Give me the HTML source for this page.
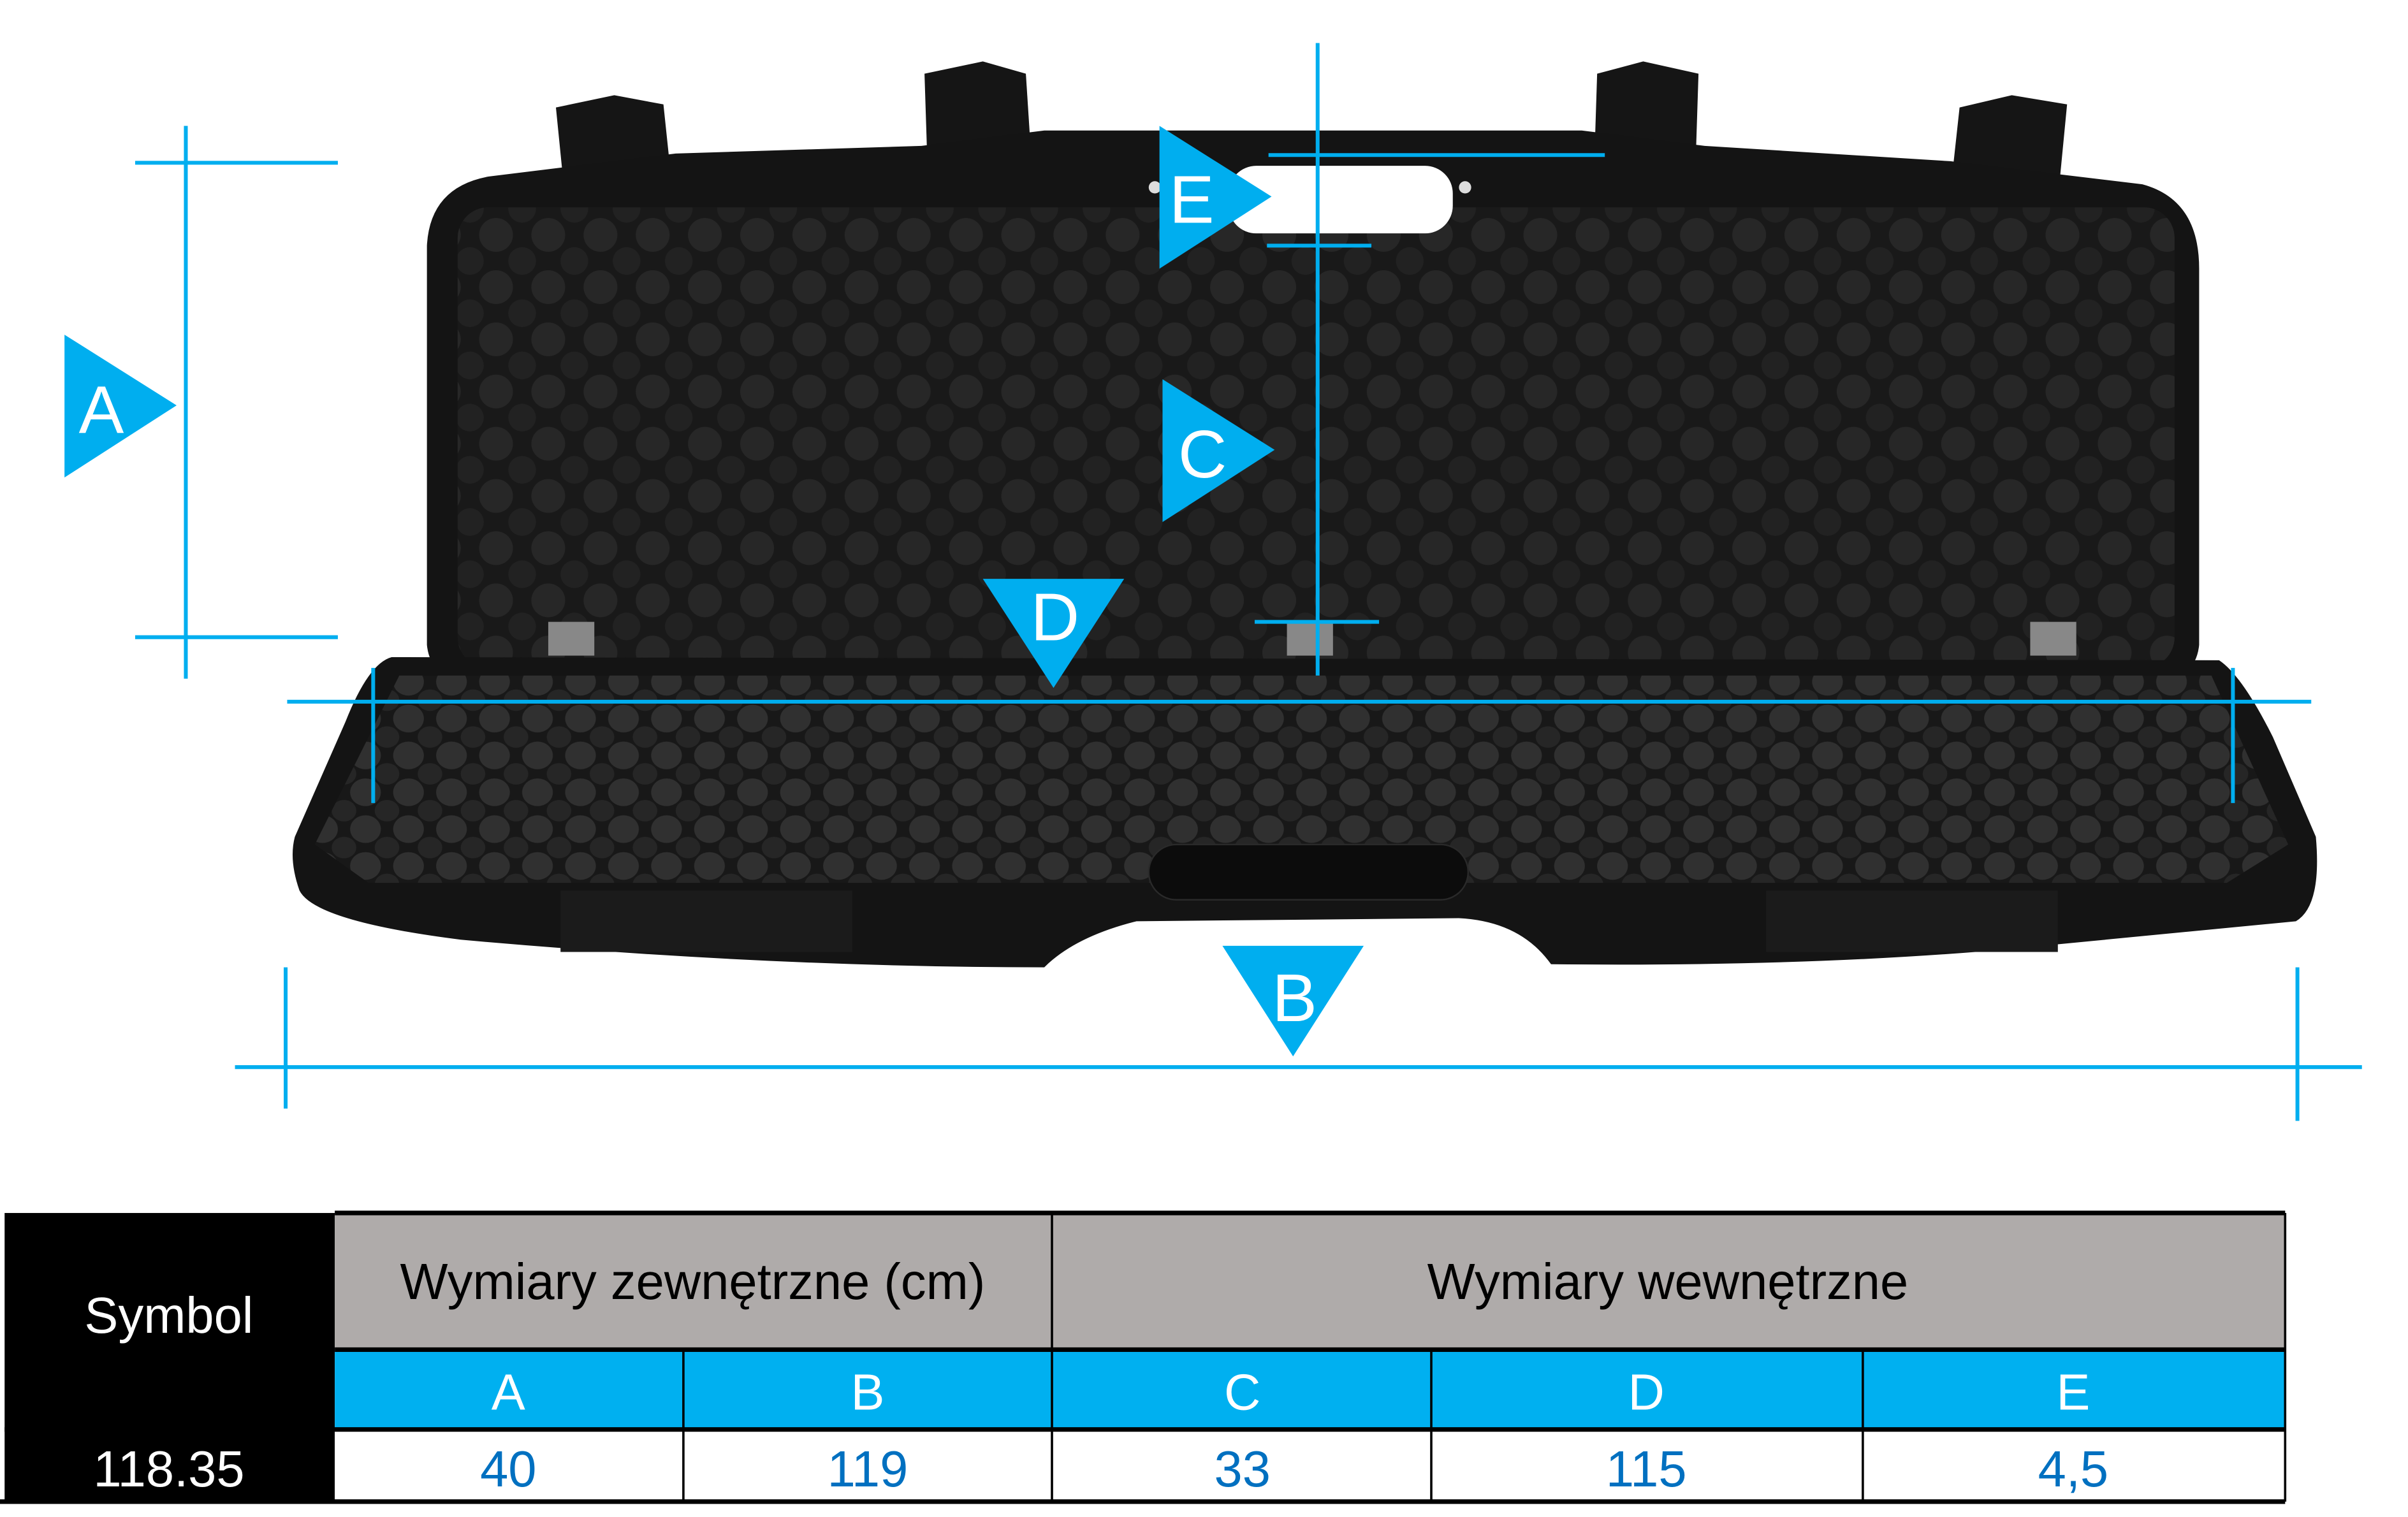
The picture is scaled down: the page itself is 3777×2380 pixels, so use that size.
<!DOCTYPE html>
<html><head><meta charset="utf-8"><style>
html,body{margin:0;padding:0;background:#fff;}
svg{display:block;}
text{font-family:"Liberation Sans",sans-serif;}
</style></head><body>
<svg width="3777" height="2380" viewBox="0 0 1568 988" preserveAspectRatio="none" xmlns="http://www.w3.org/2000/svg">
<defs>
<pattern id="foam" width="34" height="34" patternUnits="userSpaceOnUse">
<rect width="34" height="34" fill="#191919"/>
<circle cx="17" cy="17" r="11" fill="#272727"/>
<circle cx="0" cy="0" r="9" fill="#222"/><circle cx="34" cy="0" r="9" fill="#222"/>
<circle cx="0" cy="34" r="9" fill="#222"/><circle cx="34" cy="34" r="9" fill="#222"/>
</pattern>
<pattern id="foam2" width="28" height="24" patternUnits="userSpaceOnUse">
<rect width="28" height="24" fill="#181818"/>
<ellipse cx="14" cy="12" rx="10" ry="9" fill="#303030"/>
<ellipse cx="0" cy="0" rx="8" ry="7" fill="#262626"/><ellipse cx="28" cy="0" rx="8" ry="7" fill="#262626"/>
<ellipse cx="0" cy="24" rx="8" ry="7" fill="#262626"/><ellipse cx="28" cy="24" rx="8" ry="7" fill="#262626"/>
</pattern>
</defs>
<rect width="1568" height="988" fill="#fff"/>
<path d="M362 70 L400 62 L432 68 L438 125 L368 130 Z" fill="#151515"/>
<path d="M602 48 L640 40 L668 48 L672 110 L604 110 Z" fill="#151515"/>
<path d="M1040 48 L1070 40 L1106 48 L1104 110 L1038 110 Z" fill="#151515"/>
<path d="M1276 70 L1310 62 L1346 68 L1340 130 L1270 125 Z" fill="#151515"/>
<path d="M318 115 L440 100 L600 95 L680 85 L1030 85 L1110 95 L1270 105 L1395 120 Q1432 130 1432 175 L1432 420 Q1430 440 1410 442 L300 442 Q280 440 278 420 L278 160 Q280 122 318 115 Z" fill="#141414"/>
<rect x="298" y="135" width="1118" height="300" rx="20" fill="url(#foam)"/>
<rect x="800" y="108" width="146" height="44" rx="18" fill="#fff"/>
<circle cx="954" cy="122" r="4" fill="#ddd"/><circle cx="752" cy="122" r="4" fill="#ddd"/>
<path d="M255 428 L1445 430 Q1460 440 1480 480 L1508 545 Q1512 590 1495 600 L1340 615 Q1200 630 1010 628 Q990 600 950 598 L740 600 Q700 610 680 630 Q500 630 300 612 Q205 600 195 580 Q188 560 192 545 L225 470 Q240 432 255 428 Z" fill="#141414"/>
<path d="M260 440 L1440 440 L1490 550 L1450 575 L240 575 L205 550 Z" fill="url(#foam2)"/>
<rect x="748" y="550" width="208" height="36" rx="18" fill="#0c0c0c" stroke="#2a2a2a"/>
<rect x="365" y="580" width="190" height="40" fill="#1b1b1b"/><rect x="1150" y="580" width="190" height="40" fill="#1b1b1b"/>
<rect x="357" y="405" width="30" height="22" fill="#888"/><rect x="838" y="405" width="30" height="22" fill="#888"/><rect x="1322" y="405" width="30" height="22" fill="#888"/>
<g stroke="#00aeef" stroke-width="2.5" fill="none">
<line x1="121" y1="82" x2="121" y2="442"/>
<line x1="88" y1="106" x2="220" y2="106"/><line x1="88" y1="415" x2="220" y2="415"/>
<line x1="826" y1="101" x2="1045" y2="101"/><line x1="825" y1="160" x2="893" y2="160"/>
<line x1="858" y1="28" x2="858" y2="440"/><line x1="817" y1="405" x2="898" y2="405"/>
<line x1="187" y1="457" x2="1505" y2="457"/>
<line x1="243" y1="435" x2="243" y2="523"/><line x1="1454" y1="435" x2="1454" y2="523"/>
<line x1="153" y1="695" x2="1538" y2="695"/>
<line x1="186" y1="630" x2="186" y2="722"/><line x1="1496" y1="630" x2="1496" y2="730"/>
</g>
<g fill="#00aeef">
<polygon points="42,218 115,264 42,311"/>
<polygon points="755,82 828,128 755,175"/>
<polygon points="757,247 830,293 757,340"/>
<polygon points="640,377 732,377 686,448"/>
<polygon points="796,616 888,616 842,688"/>
</g>
<g fill="#fff" font-size="44" text-anchor="middle">
<text x="66" y="282">A</text>
<text x="776" y="145">E</text>
<text x="783" y="311">C</text>
<text x="687" y="417">D</text>
<text x="843" y="665">B</text>
</g>
<rect x="3" y="790" width="215" height="188" fill="#000"/>
<rect x="218" y="790" width="1270" height="89" fill="#afabaa"/>
<rect x="218" y="879" width="1270" height="52" fill="#00b0f0"/>
<rect x="218" y="931" width="1270" height="47" fill="#fff"/>
<g stroke="#000" stroke-width="1.5">
<line x1="218" y1="790" x2="1488" y2="790" stroke-width="3"/>
<line x1="218" y1="879" x2="1488" y2="879" stroke-width="3"/>
<line x1="3" y1="931" x2="1488" y2="931" stroke-width="3"/>
<line x1="0" y1="978" x2="1488" y2="978" stroke-width="3"/>
<line x1="1488" y1="790" x2="1488" y2="978"/>
<line x1="685" y1="790" x2="685" y2="978"/>
<line x1="445" y1="879" x2="445" y2="978"/>
<line x1="932" y1="879" x2="932" y2="978"/>
<line x1="1213" y1="879" x2="1213" y2="978"/>
</g>
<g font-size="33" text-anchor="middle">
<text x="110" y="868" fill="#fff">Symbol</text>
<text x="110" y="968" fill="#fff">118.35</text>
<text x="451" y="846" fill="#000">Wymiary zewnętrzne (cm)</text>
<text x="1086" y="846" fill="#000">Wymiary wewnętrzne</text>
<g fill="#fff"><text x="331" y="918">A</text><text x="565" y="918">B</text><text x="809" y="918">C</text><text x="1072" y="918">D</text><text x="1350" y="918">E</text></g>
<g fill="#0070c0"><text x="331" y="968">40</text><text x="565" y="968">119</text><text x="809" y="968">33</text><text x="1072" y="968">115</text><text x="1350" y="968">4,5</text></g>
</g>
</svg>
</body></html>
